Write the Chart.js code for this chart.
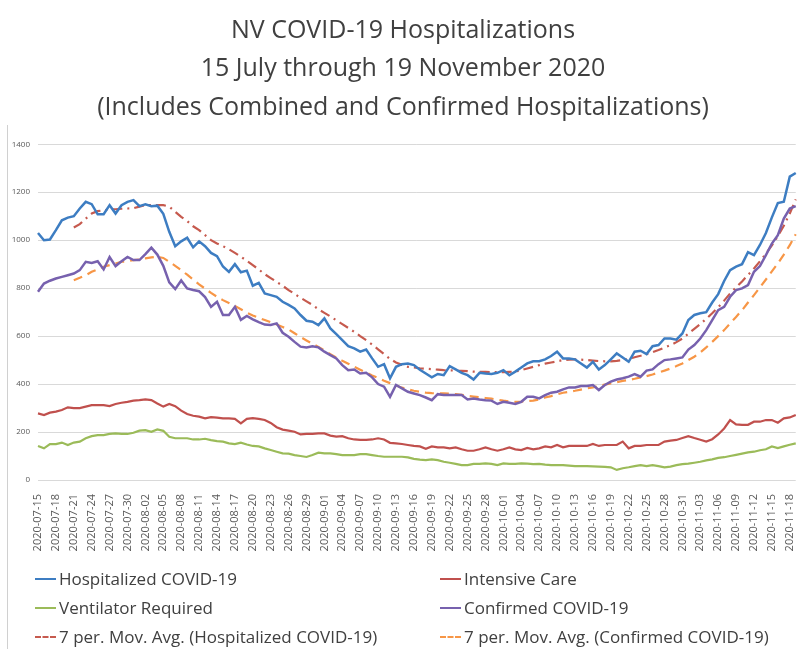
<!DOCTYPE html>
<html>
<head>
<meta charset="utf-8">
<script src="https://cdn.jsdelivr.net/npm/chart.js@4"></script>
<style>
    body { margin: 0; background: #fff; }
    #wrap { position: relative; width: 809px; height: 649px; }
    #leftRule { position: absolute; left: 7px; top: 125px; width: 1px; height: 524px; background: #d0d0d0; }
    #legend {
        position: absolute; left: 35px; top: 564px;
        display: grid; grid-template-columns: 405px 360px;
        font-family: 'Open Sans', sans-serif; font-size: 17px; color: #404040;
    }
    .item { display: flex; align-items: center; height: 29px; white-space: nowrap; }
    .swatch { width: 21px; height: 0; border-top: 2.5px solid; margin-right: 3px; }
</style>
</head>
<body>
<div id="wrap">
    <canvas id="hospChart" width="809" height="649"></canvas>
    <div id="leftRule"></div>
    <div id="legend"></div>
</div>
<script>
// ===================================================================
// NV COVID-19 HOSPITALIZAÇÕES
// ===================================================================

const startDate = '2020-07-15';
const dayCount = 128;

const hospitalized = [
    1030, 1000, 1003, 1042, 1083, 1094, 1100, 1132, 1160, 1150,
    1108, 1108, 1146, 1111, 1146, 1160, 1167, 1142, 1150, 1142,
    1144, 1110, 1035, 975, 995, 1010, 970, 995, 975, 947,
    933, 890, 868, 900, 866, 873, 810, 822, 778, 771,
    764, 743, 730, 715, 688, 664, 660, 646, 674, 632,
    608, 583, 558, 549, 535, 544, 507, 472, 483, 424,
    472, 483, 486, 479, 460, 444, 428, 442, 437, 475,
    461, 447, 437, 419, 447, 444, 442, 447, 458, 437,
    452, 469, 486, 495, 495, 503, 517, 535, 507, 507,
    503, 486, 469, 493, 461, 479, 503, 528, 511, 493,
    535, 539, 525, 558, 563, 590, 590, 585, 611, 667,
    688, 695, 700, 740, 775, 830, 875, 890, 900, 950,
    938, 980, 1030, 1095, 1155, 1160, 1265, 1280
];

const intensiveCare = [
    278, 271, 281, 285, 292, 303, 300, 300, 306, 312,
    312, 312, 308, 317, 322, 326, 331, 333, 336, 333,
    319, 306, 317, 308, 289, 275, 268, 264, 257, 262,
    260, 257, 257, 255, 236, 255, 258, 255, 250, 238,
    220, 210, 206, 201, 190, 192, 192, 194, 194, 185,
    181, 183, 174, 169, 167, 167, 169, 174, 169, 155,
    153, 150, 146, 142, 140, 130, 140, 136, 136, 132,
    136, 128, 122, 122, 128, 136, 128, 122, 128, 136,
    128, 125, 134, 128, 132, 140, 136, 146, 136, 142,
    142, 142, 142, 150, 142, 146, 146, 146, 160, 132,
    142, 142, 146, 146, 146, 160, 164, 167, 175, 183,
    175, 168, 160, 170, 190, 215, 250, 232, 230, 230,
    243, 243, 250, 250, 239, 257, 261, 271
];

const ventilator = [
    142, 132, 150, 150, 156, 146, 156, 160, 174, 183,
    187, 187, 192, 194, 192, 192, 197, 206, 208, 201,
    211, 205, 180, 174, 174, 174, 169, 169, 172, 166,
    162, 160, 153, 150, 156, 148, 142, 140, 132, 125,
    118, 111, 110, 104, 100, 96, 104, 114, 111, 111,
    108, 104, 104, 104, 108, 108, 104, 100, 97, 97,
    97, 97, 94, 88, 85, 83, 86, 83, 76, 72,
    67, 62, 62, 67, 67, 69, 67, 62, 69, 67,
    67, 69, 68, 66, 67, 64, 62, 62, 62, 60,
    58, 58, 58, 57, 56, 55, 53, 42, 49, 53,
    58, 62, 58, 62, 58, 53, 56, 62, 66, 68,
    72, 76, 82, 86, 92, 95, 100, 105, 110, 115,
    118, 124, 128, 140, 133, 140, 147, 153
];

const confirmed = [
    785, 819, 831, 840, 847, 854, 861, 875, 910, 905,
    912, 878, 930, 892, 912, 930, 917, 917, 942, 969,
    940, 893, 824, 796, 832, 799, 792, 787, 763, 722,
    743, 688, 688, 722, 668, 684, 670, 658, 648, 646,
    653, 614, 597, 576, 556, 553, 558, 553, 535, 521,
    507, 479, 458, 461, 444, 447, 428, 400, 389, 347,
    396, 382, 368, 361, 354, 344, 333, 358, 354, 354,
    354, 354, 336, 340, 336, 333, 331, 317, 326, 322,
    317, 326, 347, 347, 340, 354, 364, 368, 378, 386,
    386, 392, 392, 396, 375, 396, 410, 419, 424, 431,
    442, 431, 456, 461, 483, 500, 503, 507, 511, 544,
    563, 590, 625, 667, 708, 722, 764, 792, 799, 813,
    868, 892, 938, 986, 1021, 1090, 1132, 1142
];

// médias móveis (linhas de tendência do Excel)
const hospitalizedAvg = [
    null, null, null, null, null, null, 1053, 1067, 1090, 1111,
    1121, 1125, 1128, 1129, 1131, 1132, 1133, 1140, 1146, 1146,
    1146, 1146, 1140, 1118, 1097, 1080, 1058, 1042, 1021, 1000,
    986, 975, 962, 947, 931, 914, 896, 878, 858, 842,
    826, 810, 792, 776, 760, 745, 730, 712, 697, 682,
    666, 650, 634, 618, 600, 583, 565, 545, 525, 505,
    490, 480, 472, 469, 466, 464, 462, 460, 458, 457,
    456, 455, 454, 452, 451, 451, 450, 450, 450, 451,
    452, 458, 465, 472, 479, 485, 490, 495, 500, 502,
    503, 502, 500, 498, 496, 495, 495, 497, 500, 505,
    512, 518, 525, 533, 542, 552, 562, 575, 590, 610,
    630, 650, 672, 695, 720, 748, 778, 803, 828, 855,
    882, 912, 944, 978, 1017, 1060, 1111, 1170
];

const confirmedAvg = [
    null, null, null, null, null, null, 833, 843, 854, 868,
    878, 889, 896, 903, 910, 912, 917, 919, 924, 928,
    931, 926, 910, 893, 875, 856, 836, 816, 798, 780,
    764, 750, 738, 726, 712, 698, 686, 676, 667, 658,
    648, 638, 628, 612, 596, 582, 568, 555, 540, 525,
    510, 497, 485, 472, 460, 448, 436, 425, 414, 404,
    394, 385, 378, 372, 368, 364, 362, 361, 361, 360,
    358, 355, 351, 348, 345, 342, 339, 335, 331, 328,
    326, 327, 329, 331, 336, 344, 350, 357, 364, 368,
    372, 377, 382, 386, 392, 398, 403, 408, 413, 417,
    422, 428, 433, 440, 448, 456, 465, 475, 486, 500,
    514, 532, 553, 576, 600, 625, 653, 680, 708, 740,
    771, 803, 836, 870, 903, 940, 979, 1025
];

const yTicks = [0, 200, 400, 600, 800, 1000, 1200, 1400];

// datas diárias a partir de 15/07
const dates = [];
for (let i = 0; i < dayCount; i++) {
    const d = new Date(startDate + 'T00:00:00Z');
    d.setUTCDate(d.getUTCDate() + i);
    dates.push(d.toISOString().slice(0, 10));
}

const font = 'Open Sans';

const chart = new Chart(document.getElementById('hospChart'), {
    type: 'line',
    data: {
        labels: dates,
        datasets: [
            { label: 'Hospitalized COVID-19', data: hospitalized, borderColor: '#3D7DC2', borderWidth: 2.5 },
            { label: 'Intensive Care', data: intensiveCare, borderColor: '#C0504D', borderWidth: 2.2 },
            { label: 'Ventilator Required', data: ventilator, borderColor: '#9BBB59', borderWidth: 2.2 },
            { label: 'Confirmed COVID-19', data: confirmed, borderColor: '#7761AE', borderWidth: 2.5 },
            {
                label: '7 per. Mov. Avg. (Hospitalized COVID-19)',
                data: hospitalizedAvg,
                borderColor: '#C65A4E',
                borderWidth: 2.2,
                borderDash: [10, 5, 2, 5]
            },
            {
                label: '7 per. Mov. Avg. (Confirmed COVID-19)',
                data: confirmedAvg,
                borderColor: '#F79646',
                borderWidth: 2.2,
                borderDash: [9, 6]
            }
        ]
    },
    options: {
        responsive: false,
        animation: false,
        layout: { padding: { left: 0, right: 3, top: 0, bottom: 95 } },
        elements: {
            point: { radius: 0 },
            line: { tension: 0, fill: false }
        },
        plugins: {
            legend: { display: false },
            tooltip: { enabled: false },
            title: {
                display: true,
                text: [
                    'NV COVID-19 Hospitalizations',
                    '15 July through 19 November 2020',
                    '(Includes Combined and Confirmed Hospitalizations)'
                ],
                color: '#404040',
                font: { family: font, size: 25, weight: 'normal', lineHeight: 1.55 },
                padding: { top: 11, bottom: 17 }
            }
        },
        scales: {
            x: {
                grid: { display: false },
                border: { display: false },
                ticks: {
                    autoSkip: false,
                    minRotation: 90,
                    maxRotation: 90,
                    padding: 6,
                    color: '#595959',
                    font: { family: font, size: 11 },
                    callback: function(value, index) {
                        return index % 3 === 0 ? dates[index] : null;
                    }
                },
                afterFit: function(scale) { scale.height = 74; }
            },
            y: {
                min: yTicks[0],
                max: yTicks[yTicks.length - 1],
                border: { display: false },
                grid: { color: '#d9d9d9', lineWidth: 1, drawTicks: false },
                afterBuildTicks: function(scale) {
                    scale.ticks = yTicks.map(v => ({ value: v }));
                },
                ticks: {
                    padding: 8,
                    color: '#595959',
                    font: { family: font, size: 8 },
                    callback: function(value) { return String(value); }
                },
                afterFit: function(scale) { scale.width = 38; }
            }
        }
    }
});

// legenda em duas colunas, como no original
const legendBox = document.getElementById('legend');
chart.data.datasets.forEach(ds => {
    const item = document.createElement('div');
    item.className = 'item';
    const sw = document.createElement('span');
    sw.className = 'swatch';
    sw.style.borderTopColor = ds.borderColor;
    if (ds.borderDash) sw.style.borderTopStyle = 'dashed';
    const txt = document.createElement('span');
    txt.textContent = ds.label;
    item.appendChild(sw);
    item.appendChild(txt);
    legendBox.appendChild(item);
});
</script>
</body>
</html>
